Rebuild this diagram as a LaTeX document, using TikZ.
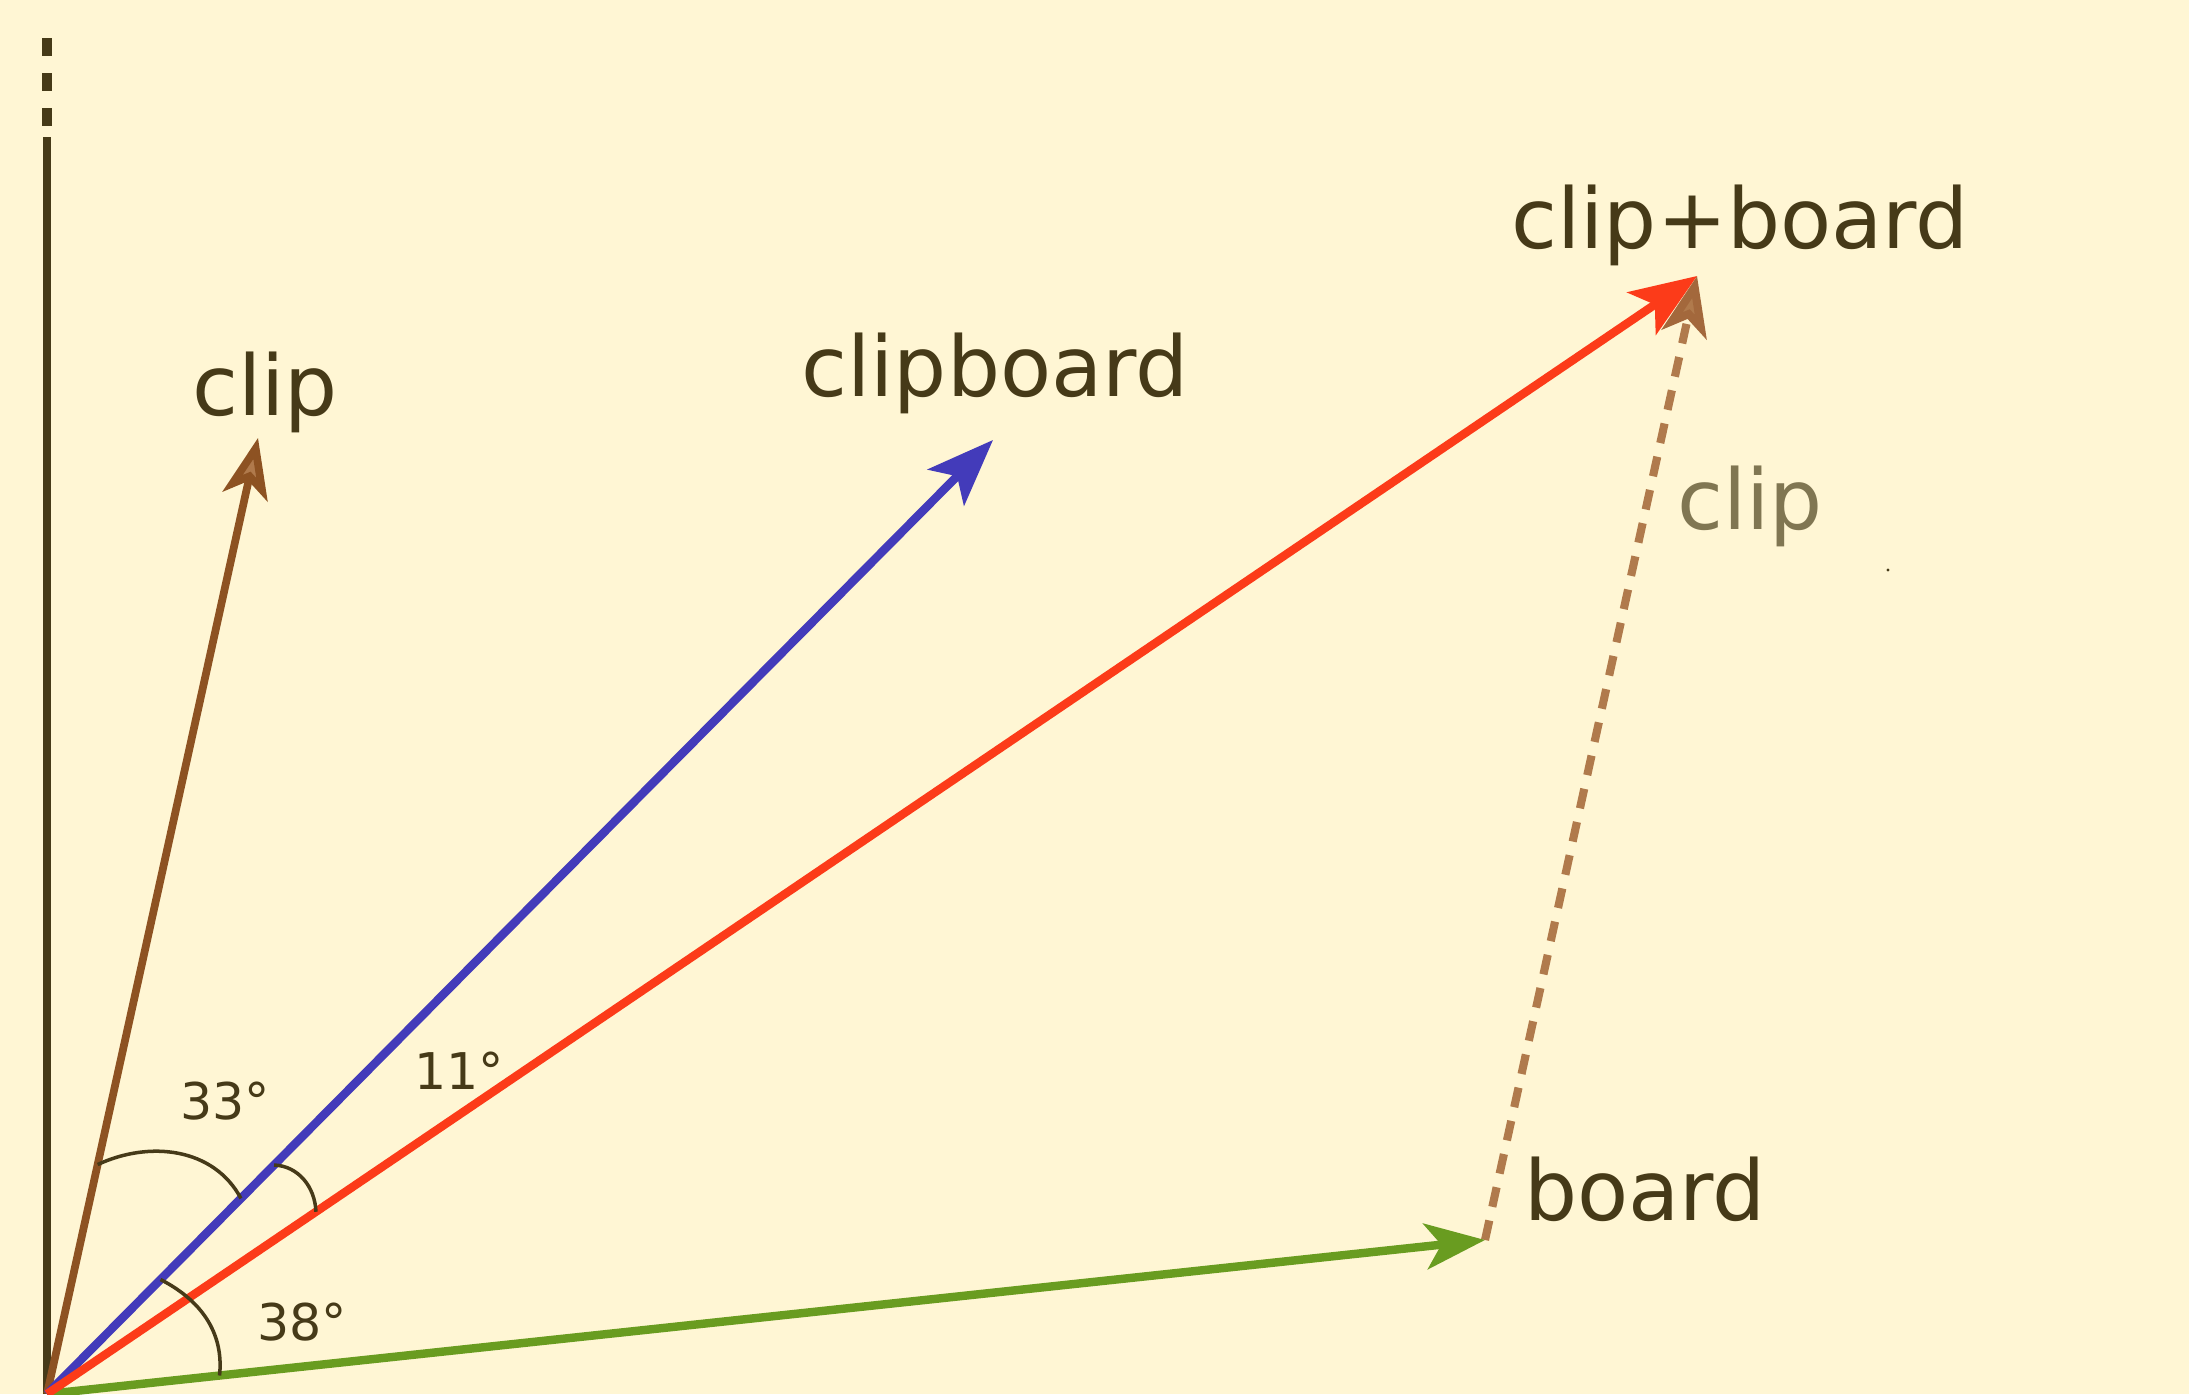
\documentclass[tikz,border=0pt]{standalone}
\usepackage{fontspec}
\setmainfont{DejaVu Sans}
\usetikzlibrary{arrows.meta}

\definecolor{bgcream}{RGB}{255,246,212}
\definecolor{inkdark}{RGB}{70,58,24}
\definecolor{inkgray}{RGB}{128,118,82}
\definecolor{clipbrown}{RGB}{141,82,34}
\definecolor{cliplight}{RGB}{176,122,76}
\definecolor{cliplightdk}{RGB}{163,104,60}
\definecolor{boardgreen}{RGB}{105,156,32}
\definecolor{cbblue}{RGB}{67,59,186}
\definecolor{sumred}{RGB}{252,59,25}

\begin{document}
\begin{tikzpicture}[
    every node/.append style={font=\rmfamily, inner sep=0pt},
    % 标签样式
    biglabel/.style={anchor=base, text=inkdark, font=\fontsize{23.8}{28}\selectfont},
    anglelabel/.style={text=inkdark, font=\fontsize{14.4}{17}\selectfont},
    % 向量样式
    vec/.style={line width=2.4pt, -{Stealth[length=19pt, width=14.5pt, inset=4.5pt]}},
    clipvec/.style={line width=2.2pt, draw=clipbrown, -{Stealth[length=17pt, width=13pt, inset=4.5pt, fill=cliplight]}},
    shiftvec/.style={line width=2.3pt, draw=cliplight, dash pattern=on 0.2cm off 0.14cm,
        -{Stealth[length=17pt, width=13pt, inset=4.5pt, fill=cliplight, color=cliplightdk]}},
    angarc/.style={draw=inkdark, line width=1pt},
]

% ========== 背景 ==========
\fill[bgcream] (0,0) rectangle (21.89,13.94);
\useasboundingbox (0,0) rectangle (21.89,13.94);

% ========== 坐标 ==========
\coordinate (O) at (0.47,0);
\coordinate (cliptip) at (2.58,9.56);
\coordinate (cbtip) at (9.93,9.54);
\coordinate (sumtip) at (16.97,11.18);
\coordinate (boardtip) at (14.85,1.54);

% ========== 竖轴 ==========
\coordinate (axtop) at (0.47,12.57);
\coordinate (dashlo) at (0.47,12.68);
\coordinate (dashhi) at (0.47,13.56);
\draw[inkdark, line width=2.3pt] (O) -- (axtop);
\draw[inkdark, line width=2.6pt, dash pattern=on 0.18cm off 0.17cm] (dashlo) -- (dashhi);

% ========== 向量 ==========
\draw[shiftvec] (boardtip) -- (sumtip);
\draw[clipvec] (O) -- (cliptip) coordinate[pos=0.24] (a33s);
\draw[vec, boardgreen, -{Stealth[length=17pt, width=13pt, inset=4.5pt]}] (O) -- (boardtip) coordinate[pos=0.12] (a38e);
\draw[vec, cbblue] (O) -- (cbtip) coordinate[pos=0.205] (a33e) coordinate[pos=0.24] (a11s) coordinate[pos=0.12] (a38s);
\draw[vec, sumred] (O) -- (sumtip) coordinate[pos=0.163] (a11e);

% ========== 角度 ==========
\draw[angarc] (a33s) to[out=25, in=118] (a33e);
\draw[angarc] (a11s) to[out=-2, in=92] (a11e);
\draw[angarc] (a38s) to[out=-27, in=84] (a38e);

\node[anglelabel] (l33) at (2.25,2.93) {33°};
\node[anglelabel] (l11) at (4.59,3.23) {11°};
\node[anglelabel] (l38) at (3.02,0.72) {38°};

% ========== 标签 ==========
\node[biglabel] (lclip) at (2.65,9.78) {clip};
\node[biglabel] (lcb) at (9.95,9.97) {clipboard};
\node[biglabel] (lsum) at (17.40,11.45) {clip+board};
\node[biglabel, text=inkgray] (lshift) at (17.50,8.64) {clip};
\node[biglabel] (lboard) at (16.45,1.74) {board};

% 小点
\fill[inkdark] (18.88,8.24) circle (0.016);

\end{tikzpicture}
\end{document}
